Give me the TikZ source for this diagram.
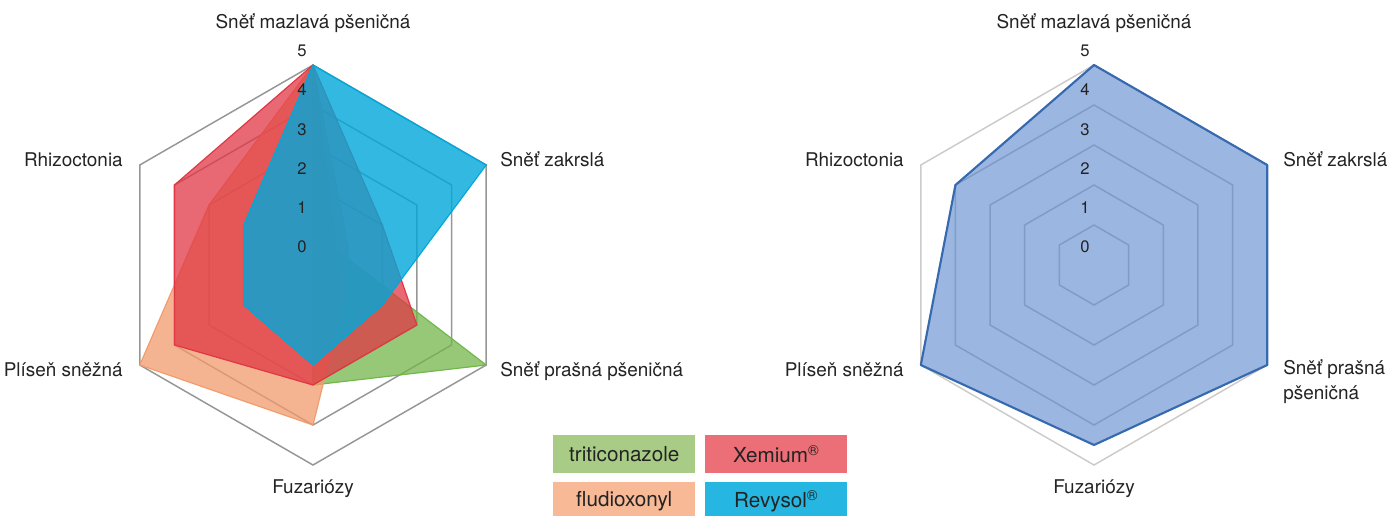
\documentclass[tikz,border=0pt]{standalone}
\usepackage{fontspec}
\setmainfont{TeX Gyre Heros}
\definecolor{ringgray}{RGB}{150,150,150}
\definecolor{ringpale}{RGB}{205,203,200}
\definecolor{txt}{RGB}{35,35,35}
\definecolor{cgreen}{RGB}{115,182,75}
\definecolor{corange}{RGB}{242,155,108}
\definecolor{cred}{RGB}{224,55,68}
\definecolor{cblue}{RGB}{0,168,218}
\definecolor{cpale}{RGB}{120,158,215}
\definecolor{cpaleedge}{RGB}{55,105,175}
\definecolor{lgreen}{RGB}{168,204,134}
\definecolor{lred}{RGB}{236,110,118}
\definecolor{lorange}{RGB}{247,185,150}
\definecolor{lblue}{RGB}{37,183,225}
\begin{document}
\begin{tikzpicture}[x=0.75pt,y=0.75pt]
	\tikzset{ring/.style = {draw=ringgray, line width=1.1pt}}
	\tikzset{series/.style = {fill opacity=0.75, line width=0.9pt, line join=round}}
	\tikzset{lab/.style = {inner sep=0pt, text=txt, font=\fontsize{14.2}{17.5}\selectfont}}
	\tikzset{num/.style = {inner sep=0pt, text=txt, font=\fontsize{12.5}{15}\selectfont, anchor=base}}
	\tikzset{legbox/.style = {inner sep=0pt, text=txt, font=\fontsize{15.5}{18}\selectfont, minimum width=106.5pt, minimum height=28.5pt, anchor=north west}}
	\useasboundingbox (0,0) rectangle (1388,515);
	% left chart
	\begin{scope}[shift={(313,250)}]
		\foreach \r in {40,80,...,200}
			\draw[ring] (90:\r) -- (30:\r) -- (-30:\r) -- (-90:\r) -- (-150:\r) -- (150:\r) -- cycle;
		\filldraw[series, fill=cgreen, draw=cgreen] (90:200) -- (30:28) -- (-30:200) -- (-90:120) -- (-150:0) -- (150:0) -- cycle;
		\filldraw[series, fill=corange, draw=corange] (90:200) -- (30:40) -- (-30:40) -- (-90:160) -- (-150:200) -- (150:120) -- cycle;
		\filldraw[series, fill=cred, draw=cred] (90:200) -- (30:80) -- (-30:120) -- (-90:120) -- (-150:160) -- (150:160) -- cycle;
		\filldraw[series, fill=cblue, draw=cblue, fill opacity=0.8] (90:200) -- (30:200) -- (-30:80) -- (-90:100) -- (-150:80) -- (150:80) -- cycle;
		\foreach \v in {0,...,5}
			\node[num] (ln\v) at (-11,{12.2+39.2*\v}) {\v};
	\end{scope}
	\node[lab, anchor=base] (lmaz) at (313,486.5) {Sněť mazlavá pšeničná};
	\node[lab, anchor=base west] (lzak) at (500,348.5) {Sněť zakrslá};
	\node[lab, anchor=base west] (lpra) at (500,138.5) {Sněť prašná pšeničná};
	\node[lab, anchor=base] (lfuz) at (313,21.5) {Fuzariózy};
	\node[lab, anchor=base east] (lpli) at (123,138.5) {Plíseň sněžná};
	\node[lab, anchor=base east] (lrhi) at (123,348.5) {Rhizoctonia};
	% right chart
	\begin{scope}[shift={(1094,250)}]
		\foreach \r in {40,80,...,160}
			\draw[ring] (90:\r) -- (30:\r) -- (-30:\r) -- (-90:\r) -- (-150:\r) -- (150:\r) -- cycle;
		\draw[ring, draw=ringpale] (90:200) -- (30:200) -- (-30:200) -- (-90:200) -- (-150:200) -- (150:200) -- cycle;
		\filldraw[series, fill=cpale, draw=cpaleedge, line width=1.6pt] (90:200) -- (30:200) -- (-30:200) -- (-90:180) -- (-150:200) -- (150:160) -- cycle;
		\foreach \v in {0,...,5}
			\node[num] (rn\v) at (-9,{12.2+39.2*\v}) {\v};
	\end{scope}
	\node[lab, anchor=base] (rmaz) at (1094,486.5) {Sněť mazlavá pšeničná};
	\node[lab, anchor=base west] (rzak) at (1283,348.5) {Sněť zakrslá};
	\node[lab, anchor=base west] (rpra) at (1283,140.5) {Sněť prašná};
	\node[lab, anchor=base west] (rpsn) at (1283,115.5) {pšeničná};
	\node[lab, anchor=base] (rfuz) at (1094,21.5) {Fuzariózy};
	\node[lab, anchor=base east] (rpli) at (904,138.5) {Plíseň sněžná};
	\node[lab, anchor=base east] (rrhi) at (904,348.5) {Rhizoctonia};
	% legend
	\node[legbox, fill=lgreen] (ktri) at (553,80) {triticonazole};
	\node[legbox, fill=lred] (kxem) at (705,80) {Xemium\textsuperscript{®}};
	\node[legbox, fill=lorange] (kflu) at (553,33) {fludioxonyl};
	\node[legbox, fill=lblue] (krev) at (705,33) {Revysol\textsuperscript{®}};
\end{tikzpicture}
\end{document}
